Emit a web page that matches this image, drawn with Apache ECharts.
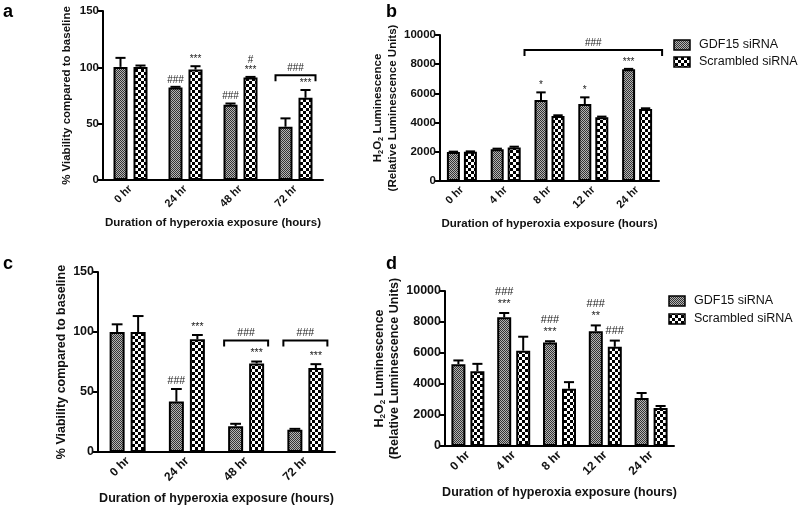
<!DOCTYPE html>
<html><head><meta charset="utf-8">
<script src="https://cdn.jsdelivr.net/npm/echarts@6/dist/echarts.min.js"></script>
<style>html,body{margin:0;padding:0;background:#fff}#c{width:800px;height:509px}</style>
</head><body><div id="c"></div>
<script>
// ---------- data ----------
const catsViab = ['0 hr', '24 hr', '48 hr', '72 hr'];
const catsLum = ['0 hr', '4 hr', '8 hr', '12 hr', '24 hr'];
const seriesNames = ['GDF15 siRNA', 'Scrambled siRNA'];
const xTitle = 'Duration of hyperoxia exposure (hours)';

// panel a
const gdfA = [100.4, 82.1, 66.7, 47.3];
const gdfAErr = [108.4, 82.7, 67.9, 54.7];
const scrA = [100.4, 98.0, 90.9, 73.0];
const scrAErr = [101.6, 101.0, 91.5, 79.9];
// panel b
const gdfB = [1990, 2170, 5550, 5270, 7650];
const gdfBErr = [2010, 2215, 6070, 5730, 7680];
const scrB = [2010, 2300, 4450, 4360, 4930];
const scrBErr = [2030, 2350, 4500, 4410, 4980];
// panel c
const gdfC = [100.0, 42.0, 21.5, 18.5];
const gdfCErr = [106.4, 52.5, 23.5, 19.3];
const scrC = [100.0, 93.9, 73.8, 69.9];
const scrCErr = [113.3, 97.5, 75.4, 73.2];
// panel d
const gdfD = [5280, 8300, 6680, 7400, 3100];
const gdfDErr = [5520, 8580, 6760, 7780, 3420];
const scrD = [4820, 6150, 3700, 6400, 2450];
const scrDErr = [5300, 7050, 4120, 6800, 2580];

// annotations: [categoryIndex, seriesIndex (0 GDF15, 1 Scrambled), label, stackLevel]
const annA = [[1,0,'###',0],[1,1,'***',0],[2,0,'###',0],[2,1,'***',0],[2,1,'#',1],[3,1,'***',0]];
const annB = [[2,0,'*',0],[3,0,'*',0],[4,0,'***',0]];
const annC = [[1,0,'###',0],[1,1,'***',0],[2,1,'***',0],[3,1,'***',0]];
const annD = [[1,0,'***',0],[1,0,'###',1],[2,0,'***',0],[2,0,'###',1],[3,0,'**',0],[3,0,'###',1],[3,1,'###',0]];
// brackets: [fromCategory, toCategory, label, level value]
const brkA = [[3,3,'###',93]];
const brkB = [[2,4,'###',8970]];
const brkC = [[2,2,'###',93],[3,3,'###',93]];
const brkD = [];

// ---------- helpers ----------
const FF = 'Liberation Sans, Arial, sans-serif';
function makePattern(cell, bg, fg) {
  const cv = document.createElement('canvas');
  cv.width = cv.height = cell * 2;
  const ctx = cv.getContext('2d');
  ctx.fillStyle = bg; ctx.fillRect(0, 0, cell * 2, cell * 2);
  ctx.fillStyle = fg; ctx.fillRect(0, 0, cell, cell); ctx.fillRect(cell, cell, cell, cell);
  return { image: cv, repeat: 'repeat' };
}
const patG = makePattern(1, '#b4b4b4', '#333');
const patS = makePattern(3, '#fff', '#000');

const panels = [
  {cats: catsViab, g: gdfA, ge: gdfAErr, s: scrA, se: scrAErr, ann: annA, brk: brkA, max:150, intv:50,
   grid:{left:103, top:11, width:220, height:169}, w:14, gap:6, annOff:7, annStep:10, annFont:10, pad:3, fs:11, tfs:11.5, ygap:30},
  {cats: catsLum, g: gdfB, ge: gdfBErr, s: scrB, se: scrBErr, ann: annB, brk: brkB, max:10000, intv:2000,
   grid:{left:440, top:35, width:219, height:146}, w:13, gap:4, annOff:7, annStep:10, annFont:10, pad:10, fs:11, tfs:11.5, ygap:36},
  {cats: catsViab, g: gdfC, ge: gdfCErr, s: scrC, se: scrCErr, ann: annC, brk: brkC, max:150, intv:50,
   grid:{left:98, top:272, width:237, height:180}, w:15, gap:6, annOff:8, annStep:10, annFont:10.5, pad:4, fs:12, tfs:12.5, ygap:30},
  {cats: catsLum, g: gdfD, ge: gdfDErr, s: scrD, se: scrDErr, ann: annD, brk: brkD, max:10000, intv:2000,
   grid:{left:445, top:291, width:229, height:155}, w:14, gap:5, annOff:9.5, annStep:11.5, annFont:11, pad:4, fs:12, tfs:12.5, ygap:38}
];

const grids = [], xAxes = [], yAxes = [], series = [];
const lumName = '{n|H}{s|2}{n|O}{s|2}{n| Luminescence}\n{n|(Relative Luminescence Units)}';

panels.forEach((p, i) => {
  grids.push(Object.assign({outerBoundsMode:'none', containLabel:false}, p.grid));
  xAxes.push({type:'category', gridIndex:i, data:p.cats,
    axisLine:{lineStyle:{color:'#000', width:2}},
    axisTick:{alignWithLabel:true, length:4, lineStyle:{color:'#000', width:1.5}},
    axisLabel:{rotate:45, fontSize:p.fs, fontWeight:'bold', color:'#111', margin:7, fontFamily:FF},
    name:xTitle, nameLocation:'middle', nameGap: (i < 2 ? 37 : 40),
    nameTextStyle:{fontSize:p.tfs, fontWeight:'bold', color:'#111', fontFamily:FF}});
  const isLum = p.max === 10000;
  yAxes.push({type:'value', gridIndex:i, min:0, max:p.max, interval:p.intv,
    axisLine:{show:true, lineStyle:{color:'#000', width:2}},
    axisTick:{show:true, length:5, lineStyle:{color:'#000', width:2}},
    splitLine:{show:false},
    axisLabel:{fontSize:p.fs + 0.5, fontWeight:'bold', color:'#111', margin:4, fontFamily:FF, formatter: v => String(v)},
    name: isLum ? lumName : '% Viability compared to baseline',
    nameLocation:'middle', nameGap:p.ygap, nameRotate:90,
    nameTextStyle: isLum ? {fontFamily:FF, lineHeight:15,
        rich:{n:{fontSize:p.tfs, fontWeight:'bold', color:'#111', fontFamily:FF, lineHeight:15},
              s:{fontSize:p.tfs*0.65, fontWeight:'bold', color:'#111', fontFamily:FF, padding:[6,0,0,0], lineHeight:15}}}
      : {fontSize:p.tfs, fontWeight:'bold', color:'#111', fontFamily:FF}});

  const gapPct = (p.gap / p.w * 100) + '%';
  const off = (p.w + p.gap) / 2;
  [[p.g, patG, seriesNames[0]], [p.s, patS, seriesNames[1]]].forEach(([vals, pat, nm]) => {
    series.push({type:'bar', name:nm, xAxisIndex:i, yAxisIndex:i, data:vals, barWidth:p.w, barGap:gapPct,
      itemStyle:{color:pat, borderColor:'#000', borderWidth:2}, z:2});
  });
  [[p.g, p.ge, -off], [p.s, p.se, off]].forEach(([m, e, dx]) => {
    series.push({type:'custom', xAxisIndex:i, yAxisIndex:i, z:3, silent:true,
      data: m.map((v, k) => [k, v, e[k]]),
      renderItem: (params, api) => {
        const a = api.coord([api.value(0), api.value(1)]);
        const b = api.coord([api.value(0), api.value(2)]);
        const x = a[0] + dx, cap = p.w * 0.36;
        return {type:'group', children:[
          {type:'line', shape:{x1:x, y1:a[1], x2:x, y2:b[1]}, style:{stroke:'#000', lineWidth:2}},
          {type:'line', shape:{x1:x-cap, y1:b[1], x2:x+cap, y2:b[1]}, style:{stroke:'#000', lineWidth:2}}]};
      }});
  });
  // significance marks anchored on the error-bar tops
  const errs = [p.ge, p.se];
  series.push({type:'custom', xAxisIndex:i, yAxisIndex:i, z:4, silent:true,
    data: p.ann.map(a => [a[0], errs[a[1]][a[0]], a[1] === 0 ? -1 : 1, a[3]]),
    renderItem: (params, api) => {
      const c = api.coord([api.value(0), api.value(1)]);
      const a = p.ann[params.dataIndex];
      return {type:'text', x: c[0] + api.value(2) * off, y: c[1] - p.annOff - api.value(3) * p.annStep,
        style:{text:a[2], fill:'#222', fontSize:p.annFont, fontFamily:FF, align:'center', verticalAlign:'middle'}};
    }});
  series.push({type:'custom', xAxisIndex:i, yAxisIndex:i, z:4, silent:true,
    data: p.brk.map(b => [b[0], b[3], b[1]]),
    renderItem: (params, api) => {
      const l = api.coord([api.value(0), api.value(1)]);
      const r = api.coord([api.value(2), api.value(1)]);
      const half = off + p.w / 2 + p.pad;
      const xl = l[0] - half, xr = r[0] + half, y = l[1];
      return {type:'group', children:[
        {type:'polyline', shape:{points:[[xl, y + 6], [xl, y], [xr, y], [xr, y + 6]]}, style:{stroke:'#000', lineWidth:2, fill:null}},
        {type:'text', x:(xl + xr) / 2, y: y - 7, style:{text:p.brk[params.dataIndex][2], fill:'#222', fontSize:p.annFont, fontFamily:FF, align:'center', verticalAlign:'middle'}}]};
    }});
});

function legendItems(x, y, dy) {
  const out = [];
  [[patG, seriesNames[0]], [patS, seriesNames[1]]].forEach(([pat, nm], k) => {
    out.push({type:'rect', shape:{x:x, y:y + k * dy - 5, width:16, height:10}, style:{fill:pat, stroke:'#000', lineWidth:1.5}});
    out.push({type:'text', x:x + 25, y:y + k * dy, style:{text:nm, fill:'#111', fontSize:12.5, fontFamily:FF, verticalAlign:'middle', align:'left'}});
  });
  return out;
}
const letters = [['a', 3, 12], ['b', 386, 12], ['c', 3, 264], ['d', 386, 264]].map(([t, x, y]) =>
  ({type:'text', x:x, y:y, style:{text:t, fill:'#000', fontSize:18, fontWeight:'bold', fontFamily:FF, verticalAlign:'middle'}}));

const chart = echarts.init(document.getElementById('c'), null, {renderer:'canvas'});
chart.setOption({
  animation:false, backgroundColor:'#fff',
  grid:grids, xAxis:xAxes, yAxis:yAxes, series:series,
  graphic: letters.concat(legendItems(674, 45, 17), legendItems(669, 301, 18))
});
</script></body></html>
